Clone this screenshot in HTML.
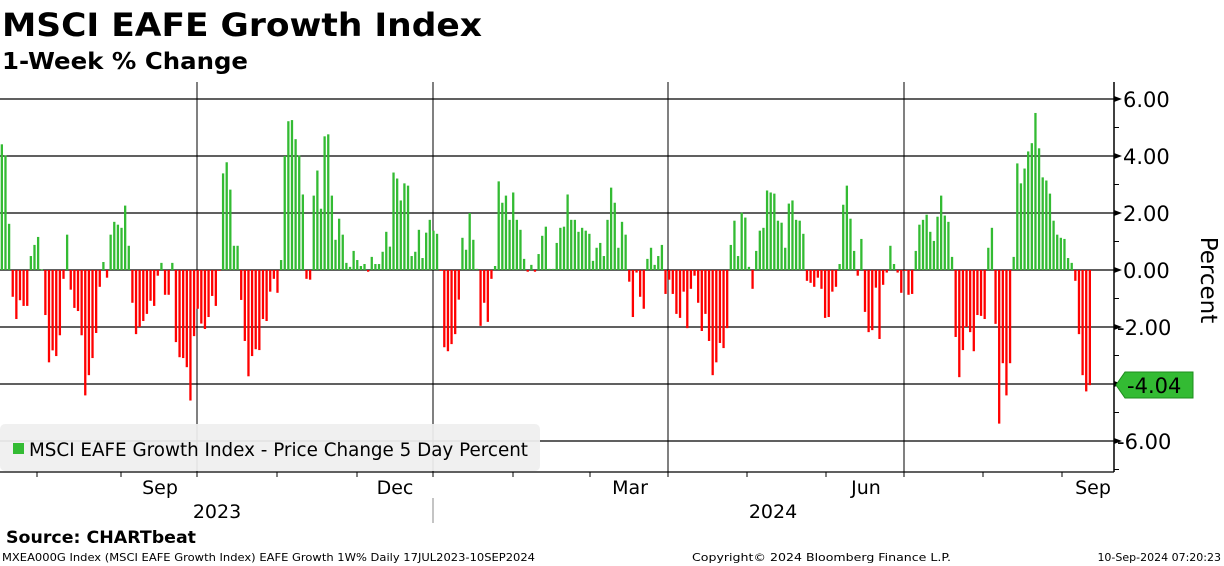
<!DOCTYPE html>
<html><head><meta charset="utf-8"><style>
html,body{margin:0;padding:0;background:#fff;}
svg{display:block;font-family:"DejaVu Sans","Liberation Sans",sans-serif;}
</style></head><body>
<svg id="chart" width="1224" height="566" viewBox="0 0 1224 566" xmlns="http://www.w3.org/2000/svg">
<text x="2" y="36" font-size="32" font-weight="bold" textLength="480" lengthAdjust="spacingAndGlyphs">MSCI EAFE Growth Index</text>
<text x="2" y="69" font-size="23" font-weight="bold" textLength="246" lengthAdjust="spacingAndGlyphs">1-Week % Change</text>
<g id="grid"></g>
<g id="bars"></g>
<g>
<rect x="0" y="424" width="540" height="47" rx="5" fill="#efefef" fill-opacity="0.93"/>
<rect x="13" y="443" width="11" height="11" fill="#33bb33"/>
<text x="29" y="456" font-size="19" textLength="499" lengthAdjust="spacingAndGlyphs">MSCI EAFE Growth Index - Price Change 5 Day Percent</text>
</g>
<g id="axes"></g>
<text transform="translate(1201,280) rotate(90)" text-anchor="middle" font-size="23">Percent</text>
<g>
<polygon points="1116,385 1125,372 1193,372 1193,398 1125,398" fill="#33bb33" stroke="#1e8c1e" stroke-width="1"/>
<text x="1127" y="393" font-size="21">-4.04</text>
</g>
<text x="6" y="543" font-size="17" font-weight="bold" textLength="190" lengthAdjust="spacingAndGlyphs">Source: CHARTbeat</text>
<text x="2" y="561" font-size="11" textLength="533" lengthAdjust="spacingAndGlyphs">MXEA000G Index (MSCI EAFE Growth Index) EAFE Growth 1W%  Daily 17JUL2023-10SEP2024</text>
<text x="692" y="561" font-size="11" textLength="259" lengthAdjust="spacingAndGlyphs">Copyright© 2024 Bloomberg Finance L.P.</text>
<text x="1221" y="561" font-size="11" text-anchor="end">10-Sep-2024 07:20:23</text>
</svg>
<script>
const values = [4.41,4.02,1.62,-0.94,-1.72,-1.06,-1.26,-1.26,0.49,0.88,1.16,0.02,-1.58,-3.24,-2.82,-3.02,-2.29,-0.31,1.24,-0.69,-1.33,-1.44,-2.29,-4.40,-3.69,-3.09,-2.21,-0.59,0.28,-0.27,1.24,1.69,1.59,1.48,2.26,0.85,-1.15,-2.25,-2.0,-1.79,-1.54,-1.08,-1.26,-0.2,0.25,-0.87,-0.87,0.25,-2.53,-3.06,-3.09,-3.41,-4.58,-2.32,-1.36,-1.88,
-2.07,-1.65,-0.91,-1.26,-0.03,3.39,3.78,2.82,0.85,0.85,-1.05,-2.49,-3.73,-3.02,-2.78,-2.81,-1.72,-1.79,-0.76,-0.31,-0.8,0.35,4.0,5.22,5.26,4.59,4.02,2.65,-0.31,-0.34,2.61,3.49,2.15,4.69,4.76,2.61,1.06,1.8,1.24,0.25,0.11,0.67,0.35,0.14,0.21,-0.06,0.46,0.21,0.21,0.64,1.34,0.82,3.42,
3.21,2.44,3.04,2.96,0.49,0.64,1.41,0.42,1.31,1.76,1.38,1.27,-0.02,-2.71,-2.85,-2.6,-2.25,-1.04,1.13,0.71,2.0,1.06,0.04,-1.96,-1.15,-1.82,-0.31,0.14,3.11,2.36,2.61,1.76,2.72,1.76,1.41,0.39,-0.06,0.18,-0.06,0.56,1.2,1.52,0.04,0.04,0.95,1.48,1.52,2.65,1.76,1.76,1.34,1.48,1.38,1.27,
0.32,0.78,0.95,0.49,1.76,2.89,2.36,0.78,1.69,1.24,-0.41,-1.65,-0.09,-0.94,-1.36,0.39,0.78,0.18,0.49,0.88,-0.84,-0.34,-0.84,-1.54,-1.68,-0.76,-2.04,-0.66,-0.2,-1.15,-2.14,-1.54,-2.49,-3.69,-3.24,-2.56,-2.74,-2.04,0.88,1.73,0.49,2.01,1.84,0.11,-0.66,0.67,1.38,1.48,2.79,2.72,2.68,1.73,1.66,0.78,
2.33,2.44,1.76,1.73,1.27,-0.38,-0.45,-0.59,-0.27,-0.66,-1.68,-1.65,-0.76,-0.59,0.21,2.29,2.96,1.8,0.67,-0.2,1.09,-1.47,-2.18,-2.11,-0.62,-2.42,-0.52,-0.09,0.85,0.21,-0.09,-0.8,-0.02,-0.87,-0.84,0.67,1.59,1.76,1.94,1.34,1.02,1.87,2.61,1.91,1.69,0.46,-2.35,-3.76,-2.81,-2.0,-2.18,-2.85,-1.58,-1.61,
-1.72,0.78,1.48,-1.89,-5.39,-3.27,-4.4,-3.27,0.46,3.74,3.04,3.56,4.16,4.45,5.51,4.27,3.25,3.14,2.68,1.73,1.24,1.13,1.09,0.42,0.25,-0.38,-2.25,-3.69,-4.26,-4.04];
const yTicks = [6,4,2,0,-2,-4,-6];
const yTickLabels = ["6.00","4.00","2.00","0.00","-2.00","-4.00","-6.00"];
const monthLabels = ["Sep","Dec","Mar","Jun","Sep"];
const yearLabels = ["2023","2024"];

const NS = "http://www.w3.org/2000/svg";
const PLOT_L = 0, PLOT_R = 1114, PLOT_T = 82, PLOT_B = 472;
const FIRST_X = 0.7, LAST_X = 1088.7;
function yScale(v){ return 270 - v * 28.5; }
function xScale(i){ return FIRST_X + i * (LAST_X - FIRST_X) / (values.length - 1); }
function mk(tag, attrs, parent){ const e = document.createElementNS(NS, tag); for (const k in attrs) e.setAttribute(k, attrs[k]); parent.appendChild(e); return e; }

const grid = document.getElementById('grid');
const axes = document.getElementById('axes');
const bars = document.getElementById('bars');

// horizontal gridlines
yTicks.forEach((t, k) => {
  const y = yScale(t);
  const gl = mk('line', {x1: PLOT_L, x2: PLOT_R, y1: y, y2: y, stroke: '#000', 'stroke-width': 1.2}, grid);
  
  
  const tri = mk('polygon', {points: `${PLOT_R},${y-3} ${PLOT_R+8},${y} ${PLOT_R},${y+3}`, fill: '#000'}, axes);
  
  
  const lb = mk('text', {x: t < 0 ? 1117 : 1123, y: y + 8, 'font-size': 21}, axes);
  lb.textContent = yTickLabels[k];
  
  
});
// minor ticks
for (let v = -7; v <= 5; v += 2) {
  const y = yScale(v);
  const mt = mk('line', {x1: PLOT_R, x2: PLOT_R + 5, y1: y, y2: y, stroke: '#000', 'stroke-width': 1}, axes);
  
  
}
// vertical quarter gridlines
[197, 433, 668, 904].forEach(x => {
  const vl = mk('line', {x1: x, x2: x, y1: PLOT_T, y2: PLOT_B, stroke: '#000', 'stroke-width': 1}, grid);
  
  
});
// bars
values.forEach((v, i) => {
  const y0 = yScale(0), y1 = yScale(v);
  const r = mk('rect', {x: xScale(i), y: Math.min(y0, y1), width: 2.3, height: Math.max(0.8, Math.abs(y1 - y0)), fill: v >= 0 ? '#33bb33' : '#ff0000'}, bars);
  
  
});
// axis lines
const ya = mk('line', {x1: PLOT_R, x2: PLOT_R, y1: PLOT_T, y2: PLOT_B, stroke: '#000', 'stroke-width': 1.5}, axes);


const xa = mk('line', {x1: 0, x2: PLOT_R, y1: PLOT_B, y2: PLOT_B, stroke: '#000', 'stroke-width': 1.3}, axes);


[37, 121, 197, 277, 357, 433, 513, 590, 668, 747, 826, 904, 983, 1062].forEach(x => {
  const tk = mk('line', {x1: x, x2: x, y1: PLOT_B, y2: PLOT_B + 5, stroke: '#000', 'stroke-width': 1}, axes);
  
  
});
[160, 395, 630, 866, 1093].forEach((x, k) => {
  const t = mk('text', {x: x, y: 494, 'font-size': 19, 'text-anchor': 'middle'}, axes);
  t.textContent = monthLabels[k];
  
  
});
[217, 773].forEach((x, k) => {
  const t = mk('text', {x: x, y: 518, 'font-size': 19, 'text-anchor': 'middle'}, axes);
  t.textContent = yearLabels[k];
  
  
});
const yd = mk('line', {x1: 433, x2: 433, y1: 498, y2: 523, stroke: '#888', 'stroke-width': 1}, axes);


</script>
</body></html>
